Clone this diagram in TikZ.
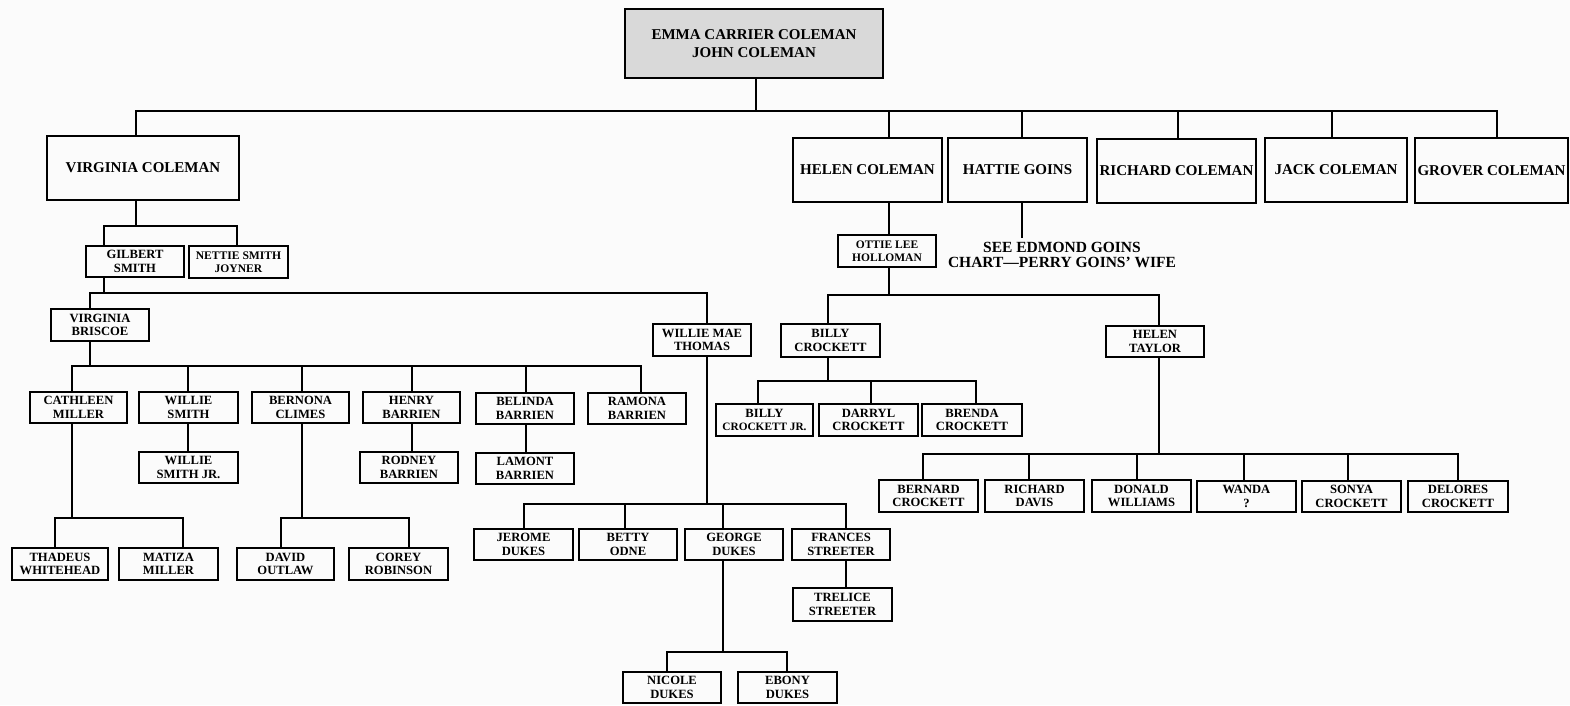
\documentclass[tikz,border=0pt]{standalone}
\usepackage{fontspec}
\setmainfont{Liberation Serif}
\usetikzlibrary{calc}
\tikzset{
  pbox/.style={draw, line width=1.8pt, inner sep=1pt, align=center,
    font=\bfseries\fontsize{12.6}{13.5}\selectfont},
  bigbox/.style={pbox, font=\bfseries\fontsize{15}{18}\selectfont},
  topbox/.style={bigbox, fill=gray!30},
  conn/.style={line width=1.7pt, line cap=rect},
}
% #1 style, #2 name, #3 x1, #4 y1, #5 x2, #6 y2, #7 text
\newcommand\pb[7]{%
  \pgfmathsetmacro\pbw{#5-#3}\pgfmathsetmacro\pbh{#6-#4}%
  \node[#1, minimum width=\pbw pt, minimum height=\pbh pt] (#2) at ({(#3+#5)/2},{(#4+#6)/2}) {#7};}
% bar name, x, child
\newcommand\gdown[3]{\draw[conn] (#2,0 |- #1) -- (#2,0 |- #3.north);}
% parent, x, bar name
\newcommand\gup[3]{\draw[conn] (#2,0 |- #1.south) -- (#2,0 |- #3);}
\newcommand\gbar[3]{\draw[conn] (#2,0 |- #1) -- (#3,0 |- #1);}
\newcommand\sm{\fontsize{11.6}{13.5}\selectfont}
\begin{document}
\begin{tikzpicture}[x=1pt,y=-1pt]
\fill[white!97!gray] (0,0) rectangle (1570,705);
\useasboundingbox (0,0) rectangle (1570,705);

% ---------- boxes ----------
\pb{topbox}{top}{625}{9}{883}{78}{EMMA CARRIER COLEMAN\\JOHN COLEMAN}
\pb{bigbox}{virg}{47}{136}{239}{200}{VIRGINIA COLEMAN}
\pb{bigbox}{helen}{793}{138}{942}{202}{HELEN COLEMAN}
\pb{bigbox}{hattie}{948}{138}{1087}{202}{HATTIE GOINS}
\pb{bigbox}{richard}{1097}{139}{1256}{203}{RICHARD COLEMAN}
\pb{bigbox}{jack}{1265}{138}{1407}{202}{JACK COLEMAN}
\pb{bigbox}{grover}{1415}{138}{1568}{203}{GROVER COLEMAN}

\pb{pbox}{gilbert}{86}{246}{184}{277}{GILBERT\\SMITH}
\pb{pbox}{nettie}{189}{246}{288}{278}{\sm NETTIE SMITH\\\sm JOYNER}
\pb{pbox}{briscoe}{51}{309}{149}{341}{VIRGINIA\\BRISCOE}
\pb{pbox}{williemae}{653}{324}{751}{356}{WILLIE MAE\\THOMAS}

\pb{pbox}{cathleen}{30}{392}{127}{423}{CATHLEEN\\MILLER}
\pb{pbox}{willie}{139}{392}{238}{423}{WILLIE\\SMITH}
\pb{pbox}{bernona}{252}{392}{349}{423}{BERNONA\\CLIMES}
\pb{pbox}{henry}{363}{392}{460}{423}{HENRY\\BARRIEN}
\pb{pbox}{belinda}{476}{393}{574}{424}{BELINDA\\BARRIEN}
\pb{pbox}{ramona}{588}{393}{686}{424}{RAMONA\\BARRIEN}

\pb{pbox}{williejr}{139}{452}{238}{483}{WILLIE\\SMITH JR.}
\pb{pbox}{rodney}{360}{452}{458}{483}{RODNEY\\BARRIEN}
\pb{pbox}{lamont}{476}{453}{574}{484}{LAMONT\\BARRIEN}

\pb{pbox}{thadeus}{12}{548}{108}{580}{THADEUS\\WHITEHEAD}
\pb{pbox}{matiza}{119}{548}{218}{580}{MATIZA\\MILLER}
\pb{pbox}{david}{237}{548}{334}{580}{DAVID\\OUTLAW}
\pb{pbox}{corey}{349}{548}{448}{580}{COREY\\ROBINSON}

\pb{pbox}{jerome}{474}{529}{573}{560}{JEROME\\DUKES}
\pb{pbox}{betty}{579}{529}{677}{560}{BETTY\\ODNE}
\pb{pbox}{george}{685}{529}{783}{560}{GEORGE\\DUKES}
\pb{pbox}{frances}{792}{529}{890}{560}{FRANCES\\STREETER}
\pb{pbox}{trelice}{793}{588}{892}{621}{TRELICE\\STREETER}
\pb{pbox}{nicole}{623}{672}{721}{703}{NICOLE\\DUKES}
\pb{pbox}{ebony}{738}{672}{837}{703}{EBONY\\DUKES}

\pb{pbox}{ottie}{838}{235}{936}{267}{\fontsize{11.5}{12.5}\selectfont OTTIE LEE\\\fontsize{11.5}{12.5}\selectfont HOLLOMAN}
\node[font=\bfseries\fontsize{15.5}{15.5}\selectfont, align=center, anchor=north, inner sep=0pt]
  (see) at (1062,242) {SEE EDMOND GOINS\\CHART---PERRY GOINS' WIFE};

\pb{pbox}{billy}{781}{324}{880}{357}{BILLY\\CROCKETT}
\pb{pbox}{helentaylor}{1106}{326}{1204}{357}{HELEN\\TAYLOR}
\pb{pbox}{billyjr}{716}{404}{813}{436}{BILLY\\\fontsize{11.3}{13.5}\selectfont CROCKETT JR.}
\pb{pbox}{darryl}{819}{404}{918}{436}{DARRYL\\CROCKETT}
\pb{pbox}{brenda}{922}{404}{1022}{436}{BRENDA\\CROCKETT}

\pb{pbox}{bernard}{879}{480}{978}{512}{BERNARD\\CROCKETT}
\pb{pbox}{richdavis}{985}{480}{1084}{512}{RICHARD\\DAVIS}
\pb{pbox}{donald}{1092}{480}{1191}{512}{DONALD\\WILLIAMS}
\pb{pbox}{wanda}{1197}{481}{1296}{512}{WANDA\\?}
\pb{pbox}{sonya}{1302}{481}{1401}{512}{SONYA\\CROCKETT}
\pb{pbox}{delores}{1408}{481}{1508}{512}{DELORES\\CROCKETT}

% ---------- bar coordinates ----------
\coordinate (B0) at (0,111);
\coordinate (B1) at (0,226);
\coordinate (B2) at (0,293);
\coordinate (B3) at (0,366);
\coordinate (B4) at (0,518);
\coordinate (B6) at (0,504);
\coordinate (B7) at (0,652);
\coordinate (B8) at (0,295);
\coordinate (B9) at (0,381);
\coordinate (B10) at (0,454);
\coordinate (seeend) at (1022,237);

% ---------- connectors ----------
\gup{top}{756}{B0}
\gbar{B0}{136}{1497}
\gdown{B0}{136}{virg}
\gdown{B0}{889}{helen}
\gdown{B0}{1022}{hattie}
\gdown{B0}{1178}{richard}
\gdown{B0}{1332}{jack}
\gdown{B0}{1497}{grover}

\gup{virg}{136}{B1}
\gbar{B1}{104}{237}
\gdown{B1}{104}{gilbert}
\gdown{B1}{237}{nettie}

\gup{gilbert}{104}{B2}
\gbar{B2}{90}{707}
\gdown{B2}{90}{briscoe}
\gdown{B2}{707}{williemae}

\gup{briscoe}{90}{B3}
\gbar{B3}{72}{641}
\gdown{B3}{72}{cathleen}
\gdown{B3}{188}{willie}
\gdown{B3}{302}{bernona}
\gdown{B3}{412}{henry}
\gdown{B3}{526}{belinda}
\gdown{B3}{641}{ramona}

\draw[conn] (188,0 |- willie.south) -- (188,0 |- williejr.north);
\draw[conn] (412,0 |- henry.south) -- (412,0 |- rodney.north);
\draw[conn] (526,0 |- belinda.south) -- (526,0 |- lamont.north);

\gup{cathleen}{72}{B4}
\gbar{B4}{55}{183}
\gdown{B4}{55}{thadeus}
\gdown{B4}{183}{matiza}

\gup{bernona}{302}{B4}
\gbar{B4}{281}{409}
\gdown{B4}{281}{david}
\gdown{B4}{409}{corey}

\gup{williemae}{707}{B6}
\gbar{B6}{524}{846}
\gdown{B6}{524}{jerome}
\gdown{B6}{625}{betty}
\gdown{B6}{723}{george}
\gdown{B6}{846}{frances}
\draw[conn] (846,0 |- frances.south) -- (846,0 |- trelice.north);

\gup{george}{723}{B7}
\gbar{B7}{667}{787}
\gdown{B7}{667}{nicole}
\gdown{B7}{787}{ebony}

\draw[conn] (889,0 |- helen.south) -- (889,0 |- ottie.north);
\draw[conn] (1022,0 |- hattie.south) -- (seeend);

\gup{ottie}{889}{B8}
\gbar{B8}{828}{1159}
\gdown{B8}{828}{billy}
\gdown{B8}{1159}{helentaylor}

\gup{billy}{828}{B9}
\gbar{B9}{758}{976}
\gdown{B9}{758}{billyjr}
\gdown{B9}{871}{darryl}
\gdown{B9}{976}{brenda}

\gup{helentaylor}{1159}{B10}
\gbar{B10}{923}{1458}
\gdown{B10}{923}{bernard}
\gdown{B10}{1029}{richdavis}
\gdown{B10}{1137}{donald}
\gdown{B10}{1244}{wanda}
\gdown{B10}{1348}{sonya}
\gdown{B10}{1458}{delores}
\end{tikzpicture}
\end{document}
